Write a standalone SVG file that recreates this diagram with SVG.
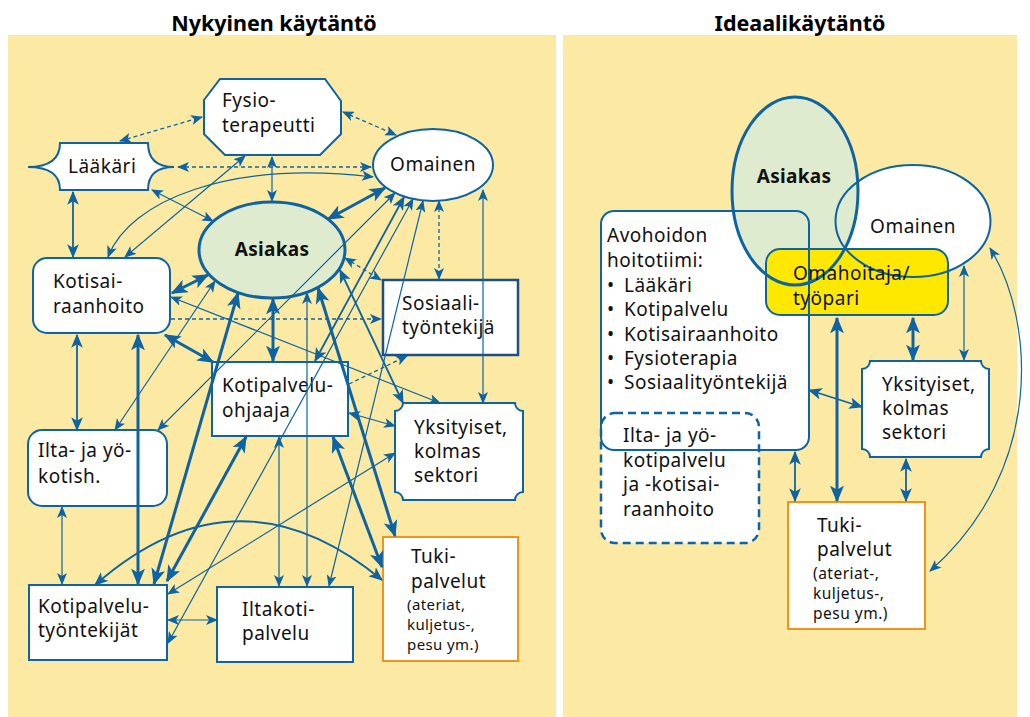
<svg xmlns="http://www.w3.org/2000/svg" width="1030" height="717" viewBox="0 0 1030 717">
<style>
.panel{fill:#FCE9A3}
.t{font-family:"Noto Sans","Open Sans","DejaVu Sans",sans-serif;font-size:19px;letter-spacing:0.5px;fill:#111}
.s{font-size:15px;letter-spacing:0.4px}
.s2{font-size:15.5px;letter-spacing:0.5px}
.b{font-weight:bold;letter-spacing:0.3px}
.title{font-family:"Noto Sans","Open Sans","DejaVu Sans",sans-serif;font-weight:bold;font-size:21.5px;fill:#000}
.n{fill:#fff;stroke:#0E63A3;stroke-width:2}
.ast{fill:#DFEBCE;stroke:#0E63A3;stroke-width:3}
.c{fill:none;stroke:#0E63A3}
.w1{stroke-width:1.2}
.w2{stroke-width:1.8}
.w3{stroke-width:3}
.d{stroke-dasharray:4 3;stroke-width:1.3}
.o{fill:none;stroke:#0E63A3;stroke-width:2}
</style>
<defs>
<marker id="a1" viewBox="0 0 12 10" refX="11" refY="5" markerWidth="12" markerHeight="10" markerUnits="userSpaceOnUse" orient="auto-start-reverse"><path d="M0,0 L12,5 L0,10 L3,5 Z" fill="#0E63A3"/></marker>
<marker id="a2" viewBox="0 0 12 10" refX="11" refY="5" markerWidth="14" markerHeight="11.7" markerUnits="userSpaceOnUse" orient="auto-start-reverse"><path d="M0,0 L12,5 L0,10 L3,5 Z" fill="#0E63A3"/></marker>
<marker id="a3" viewBox="0 0 12 10" refX="11" refY="5" markerWidth="16.8" markerHeight="14" markerUnits="userSpaceOnUse" orient="auto-start-reverse"><path d="M0,0 L12,5 L0,10 L3,5 Z" fill="#0E63A3"/></marker>
</defs>

<rect class="panel" x="8" y="35" width="548" height="682"/>
<rect class="panel" x="563" y="35" width="454" height="682"/>
<text class="title" x="274" y="31" text-anchor="middle">Nykyinen käytäntö</text>
<text class="title" x="800" y="31" text-anchor="middle">Ideaalikäytäntö</text>

<!-- LEFT NODES -->
<g id="l-fysio"><path class="n" d="M220,79 L325,79 L341,101 L341,134 L320,155 L225,155 L204,134 L204,100 Z"/><text class="t" x="222" y="107">Fysio-</text><text class="t" x="222" y="132">terapeutti</text></g>
<g id="l-laakari"><path class="n" d="M60,143 L148,143 Q148,167 174,167 Q148,167 148,190 L60,190 Q60,167 28,167 Q60,167 60,143 Z"/><text class="t" x="68" y="173">Lääkäri</text></g>
<g id="l-omainen"><ellipse class="n" cx="433" cy="165" rx="60" ry="36"/><text class="t" x="433" y="171" text-anchor="middle">Omainen</text></g>
<g id="l-asiakas"><ellipse class="ast" cx="272" cy="250" rx="73" ry="48"/><text class="t b" x="272" y="256" text-anchor="middle">Asiakas</text></g>
<g id="l-kotisairaanhoito"><rect class="n" x="33" y="258" width="137" height="75" rx="14"/><text class="t" x="53" y="288">Kotisai-</text><text class="t" x="53" y="313">raanhoito</text></g>
<g id="l-sosiaali"><rect class="n" x="383" y="280" width="135" height="75" style="stroke:#1D4F85;stroke-width:2.5"/><text class="t" x="402" y="310">Sosiaali-</text><text class="t" x="402" y="334">työntekijä</text></g>
<g id="l-kpohjaaja"><rect class="n" x="212" y="362" width="136" height="74"/><text class="t" x="222" y="392">Kotipalvelu-</text><text class="t" x="222" y="417">ohjaaja</text></g>
<g id="l-ilta"><rect class="n" x="28" y="430" width="139" height="76" rx="14"/><text class="t" x="38" y="457">Ilta- ja yö-</text><text class="t" x="38" y="483">kotish.</text></g>
<g id="l-yksityiset"><path class="n" d="M403,403 H515 A8,8 0 0 0 523,411 V492 A8,8 0 0 0 515,500 H403 A8,8 0 0 0 395,492 V411 A8,8 0 0 0 403,403 Z"/><text class="t" x="414" y="434">Yksityiset,</text><text class="t" x="414" y="458">kolmas</text><text class="t" x="414" y="482">sektori</text></g>
<g id="l-tuki"><rect class="n" x="383" y="537" width="135" height="124" style="stroke:#F0951C"/><text class="t" x="411" y="563">Tuki-</text><text class="t" x="411" y="588">palvelut</text><text class="t s" x="407" y="610">(ateriat,</text><text class="t s" x="407" y="630">kuljetus-,</text><text class="t s" x="407" y="650">pesu ym.)</text></g>
<g id="l-kptyontekijat"><rect class="n" x="29" y="585" width="138" height="75"/><text class="t" x="38" y="613">Kotipalvelu-</text><text class="t" x="38" y="637">työntekijät</text></g>
<g id="l-iltakoti"><rect class="n" x="217" y="587" width="136" height="75"/><text class="t" x="242" y="616">Iltakoti-</text><text class="t" x="242" y="640">palvelu</text></g>

<!-- LEFT CONNECTORS -->
<g id="l-connectors">
<path class="c d" d="M120,141 L202,117" marker-start="url(#a1)" marker-end="url(#a1)"/>
<path class="c d" d="M343,112 L396,135" marker-start="url(#a1)" marker-end="url(#a1)"/>
<path class="c d" d="M178,167 L371,167" marker-start="url(#a1)" marker-end="url(#a1)"/>
<path class="c w1" d="M272,157 L272,201" marker-start="url(#a1)" marker-end="url(#a1)"/>
<path class="c w1" d="M108,257 C130,200 230,160 373,177" marker-start="url(#a1)" marker-end="url(#a1)"/>
<path class="c w1" d="M125,257 L245,156" marker-start="url(#a1)" marker-end="url(#a1)"/>
<path class="c w1" d="M152,190 L213,221" marker-start="url(#a1)" marker-end="url(#a1)"/>
<path class="c w2" d="M73,192 L73,257" marker-start="url(#a2)" marker-end="url(#a2)"/>
<path class="c w3" d="M328,219 L385,188" marker-start="url(#a3)" marker-end="url(#a3)"/>
<path class="c w1" d="M158,430 L395,193" marker-start="url(#a1)" marker-end="url(#a1)"/>
<path class="c w2" d="M315,361 L404,197" marker-start="url(#a2)" marker-end="url(#a2)"/>
<path class="c w3" d="M167,581 L246,437" marker-start="url(#a3)" marker-end="url(#a3)"/>
<path class="c w3" d="M154,584 L238,293" marker-start="url(#a3)" marker-end="url(#a3)"/>
<path class="c w3" d="M138,335 L138,584" marker-start="url(#a3)" marker-end="url(#a3)"/>
<path class="c w2" d="M77,335 L77,430" marker-start="url(#a2)" marker-end="url(#a2)"/>
<path class="c w1" d="M62,507 L62,584" marker-start="url(#a1)" marker-end="url(#a1)"/>
<path class="c w1" d="M115,430 L215,281" marker-start="url(#a1)" marker-end="url(#a1)"/>
<path class="c w3" d="M172,293 L208,275" marker-start="url(#a3)" marker-end="url(#a3)"/>
<path class="c w3" d="M165,335 L213,362" marker-start="url(#a3)" marker-end="url(#a3)"/>
<path class="c w3" d="M273,299 L273,361" marker-start="url(#a3)" marker-end="url(#a3)"/>
<path class="c w1" d="M307,293 L307,586" marker-start="url(#a1)" marker-end="url(#a1)"/>
<path class="c w1" d="M279,437 L279,586" marker-start="url(#a1)" marker-end="url(#a1)"/>
<path class="c w3" d="M318,288 L395,536" marker-start="url(#a3)" marker-end="url(#a3)"/>
<path class="c w3" d="M333,437 L382,567" marker-start="url(#a3)" marker-end="url(#a3)"/>
<path class="c w1" d="M349,413 L395,426" marker-start="url(#a1)" marker-end="url(#a1)"/>
<path class="c w2" d="M340,270 L403,403" marker-start="url(#a2)" marker-end="url(#a2)"/>
<path class="c d" d="M345,258 L381,280" marker-start="url(#a1)" marker-end="url(#a1)"/>
<path class="c d" d="M171,319 L381,319" marker-end="url(#a1)"/>
<path class="c d" d="M439,201 L439,279" marker-start="url(#a1)" marker-end="url(#a1)"/>
<path class="c w1" d="M483,190 L483,403" marker-start="url(#a1)" marker-end="url(#a1)"/>
<path class="c w1" d="M171,297 L440,403" marker-start="url(#a1)" marker-end="url(#a1)"/>
<path class="c d" d="M349,384 L407,356" marker-end="url(#a1)"/>
<path class="c w2" d="M95,585 Q237,460 382,580" marker-start="url(#a2)" marker-end="url(#a2)"/>
<path class="c w1" d="M168,643 L413,199" marker-start="url(#a1)" marker-end="url(#a1)"/>
<path class="c w1" d="M168,594 L395,453" marker-start="url(#a1)" marker-end="url(#a1)"/>
<path class="c w1" d="M329,586 L423,201" marker-start="url(#a1)" marker-end="url(#a1)"/>
<path class="c w1" d="M168,620 L217,620" marker-start="url(#a1)" marker-end="url(#a1)"/>
</g>

<!-- RIGHT NODES -->
<g id="r-avohoidon-fill"><rect x="601" y="211" width="208" height="239" rx="13" fill="#fff"/></g>
<g id="r-ilta-fill"><rect x="601" y="413" width="158" height="130" rx="14" fill="#fff"/></g>
<g id="r-omainen"><ellipse cx="913" cy="221" rx="77.5" ry="56" fill="#fff"/></g>
<g id="r-asiakas"><ellipse cx="795" cy="191" rx="63" ry="94" fill="#DFEBCE"/></g>
<g id="r-omahoitaja"><rect x="766" y="249" width="182" height="66" rx="14" fill="#FFE800" stroke="#0E63A3" stroke-width="2"/></g>
<g id="r-outlines">
<ellipse class="o" cx="795" cy="191" rx="63" ry="94" style="stroke-width:3"/>
<ellipse class="o" cx="913" cy="221" rx="77.5" ry="56"/>
<rect class="o" x="601" y="211" width="208" height="239" rx="13"/>
<rect class="o" x="601" y="413" width="158" height="130" rx="14" style="stroke-width:2.5;stroke-dasharray:8 5"/>
</g>
<g id="r-texts">
<text class="t b" x="794" y="183" text-anchor="middle">Asiakas</text>
<text class="t" x="913" y="233" text-anchor="middle">Omainen</text>
<text class="t" x="793" y="280">Omahoitaja/</text>
<text class="t" x="793" y="305">työpari</text>
<text class="t" x="607" y="242">Avohoidon</text>
<text class="t" x="607" y="267">hoitotiimi:</text>
<text class="t"><tspan x="607" y="292">•</tspan><tspan x="624" y="292">Lääkäri</tspan></text>
<text class="t"><tspan x="607" y="316">•</tspan><tspan x="624" y="316">Kotipalvelu</tspan></text>
<text class="t"><tspan x="607" y="341">•</tspan><tspan x="624" y="341">Kotisairaanhoito</tspan></text>
<text class="t"><tspan x="607" y="365">•</tspan><tspan x="624" y="365">Fysioterapia</tspan></text>
<text class="t"><tspan x="607" y="389">•</tspan><tspan x="624" y="389">Sosiaalityöntekijä</tspan></text>
<text class="t" x="623" y="442">Ilta- ja yö-</text>
<text class="t" x="623" y="467">kotipalvelu</text>
<text class="t" x="623" y="491">ja -kotisai-</text>
<text class="t" x="623" y="516">raanhoito</text>
</g>
<g id="r-yksityiset"><path class="n" d="M870,361 H981 A8,8 0 0 0 989,369 V449 A8,8 0 0 0 981,457 H870 A8,8 0 0 0 862,449 V369 A8,8 0 0 0 870,361 Z"/><text class="t" x="882" y="391">Yksityiset,</text><text class="t" x="882" y="415">kolmas</text><text class="t" x="882" y="439">sektori</text></g>
<g id="r-tuki"><rect class="n" x="788" y="502" width="137" height="127" style="stroke:#F0951C"/><text class="t" x="817" y="532">Tuki-</text><text class="t" x="817" y="556">palvelut</text><text class="t s2" x="813" y="579">(ateriat-,</text><text class="t s2" x="813" y="599">kuljetus-,</text><text class="t s2" x="813" y="619">pesu ym.)</text></g>

<!-- RIGHT CONNECTORS -->
<g id="r-connectors">
<path class="c w3" d="M837,318 L837,501" marker-start="url(#a3)" marker-end="url(#a3)"/>
<path class="c w3" d="M913,318 L913,360" marker-start="url(#a3)" marker-end="url(#a3)"/>
<path class="c w1" d="M964,266 L964,360" marker-start="url(#a1)" marker-end="url(#a1)"/>
<path class="c w2" d="M809,390 L862,407" marker-start="url(#a2)" marker-end="url(#a2)"/>
<path class="c w2" d="M795,452 L795,501" marker-start="url(#a2)" marker-end="url(#a2)"/>
<path class="c w2" d="M906,459 L906,501" marker-start="url(#a2)" marker-end="url(#a2)"/>
<path class="c w1" d="M990,248 C1035,320 1045,470 930,571" marker-start="url(#a1)" marker-end="url(#a1)"/>
</g>
</svg>
